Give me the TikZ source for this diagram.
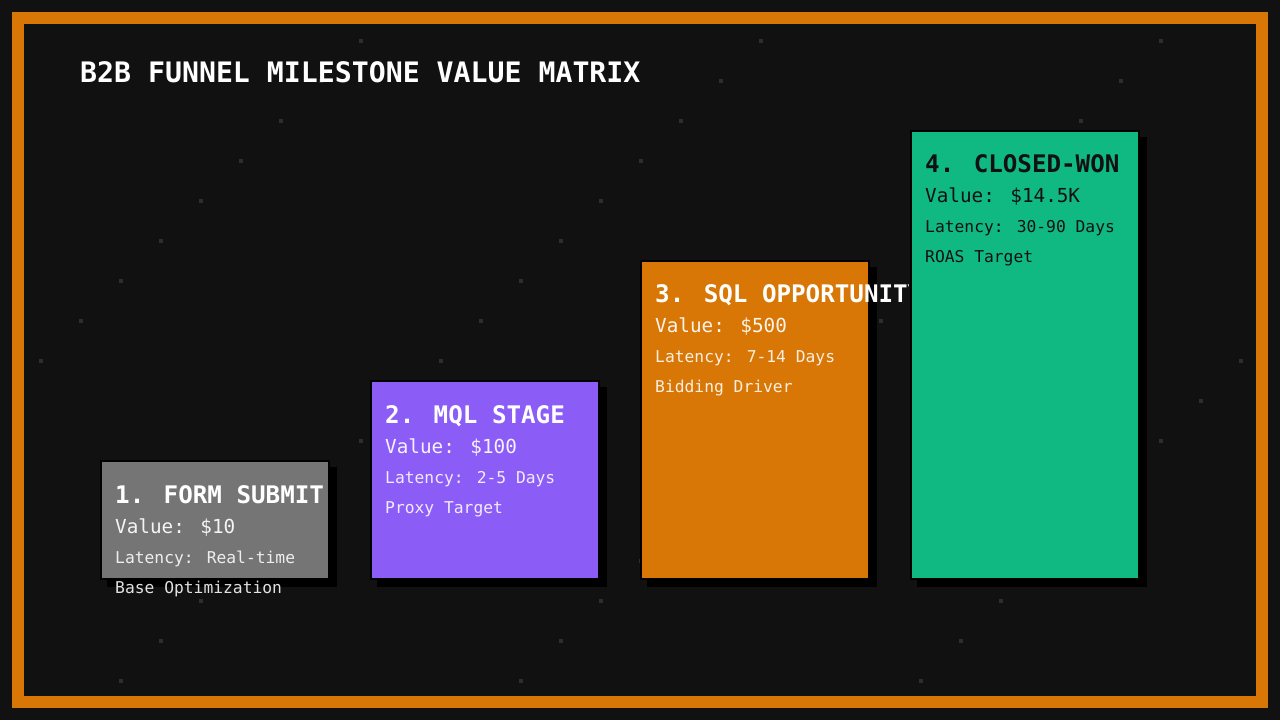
\documentclass[tikz,border=0pt]{standalone}
\usepackage{fontspec}
\setmainfont{DejaVu Sans Mono}
\definecolor{bg}{HTML}{111111}
\definecolor{frameorange}{HTML}{D97706}
\definecolor{dotgray}{HTML}{2E2E2E}
\definecolor{cgray}{HTML}{757575}
\definecolor{cpurple}{HTML}{8B5CF6}
\definecolor{corange}{HTML}{D97706}
\definecolor{cgreen}{HTML}{10B981}
\definecolor{darktext}{HTML}{111111}
\tikzset{
  stagebox/.style={draw=black, line width=2pt, anchor=north west, minimum width=228pt, inner sep=0pt, outer sep=0pt},
  shadowbox/.style={fill=black},
  ttl/.style={anchor=base west, inner sep=0pt, font=\fontsize{24.2}{24.2}\selectfont\bfseries},
  val/.style={anchor=base west, inner sep=0pt, font=\fontsize{19.3}{19.3}\selectfont},
  lat/.style={anchor=base west, inner sep=0pt, font=\fontsize{16.3}{16.3}\selectfont},
  maintitle/.style={anchor=base west, inner sep=0pt, text=white, font=\fontsize{28.2}{28.2}\selectfont\bfseries},
}
\begin{document}
\begin{tikzpicture}[x=1pt,y=-1pt]
\useasboundingbox (0,0) rectangle (1280,720);
\fill[bg] (0,0) rectangle (1280,720);
% dot pattern
\foreach \i in {1,...,31}{
  \foreach \s in {402,802,1202,1602}{
    \pgfmathtruncatemacro{\xx}{1+40*\i}
    \pgfmathtruncatemacro{\yy}{\s-\xx}
    \ifnum\yy>24 \ifnum\yy<696
      \fill[dotgray] (\xx-2,\yy-2) rectangle (\xx+2,\yy+2);
    \fi\fi
  }
}
% frame
\draw[frameorange, line width=12pt] (18,18) rectangle (1262,702);
% title
\node[maintitle] (title) at (80,82) {B2B FUNNEL MILESTONE VALUE MATRIX};

% box 1
\fill[shadowbox] (107,467) rectangle (337,587);
\node[stagebox, fill=cgray, minimum height=118pt] (b1) at (101,461) {};
\node[ttl, text=white] (t1) at (115,503) {1. FORM SUBMIT};
\node[val, text=white, text opacity=0.92] (v1) at (115,533) {Value: \$10};
\node[lat, text=white, text opacity=0.88] (l1) at (115,563) {Latency: Real-time};
\node[lat, text=white, text opacity=0.88] (e1) at (115,593) {Base Optimization};

% box 2
\fill[shadowbox] (377,387) rectangle (607,587);
\node[stagebox, fill=cpurple, minimum height=198pt] (b2) at (371,381) {};
\node[ttl, text=white] (t2) at (385,423) {2. MQL STAGE};
\node[val, text=white, text opacity=0.92] (v2) at (385,453) {Value: \$100};
\node[lat, text=white, text opacity=0.88] (l2) at (385,483) {Latency: 2-5 Days};
\node[lat, text=white, text opacity=0.88] (e2) at (385,513) {Proxy Target};

% box 3
\fill[shadowbox] (647,267) rectangle (877,587);
\node[stagebox, fill=corange, minimum height=318pt] (b3) at (641,261) {};
\begin{scope}
  \clip (641,250) rectangle (908,320);
  \node[ttl, text=white] (t3) at (655,302) {3. SQL OPPORTUNITY};
\end{scope}
\node[val, text=white, text opacity=0.92] (v3) at (655,332) {Value: \$500};
\node[lat, text=white, text opacity=0.88] (l3) at (655,362) {Latency: 7-14 Days};
\node[lat, text=white, text opacity=0.88] (e3) at (655,392) {Bidding Driver};

% box 4
\fill[shadowbox] (917,137) rectangle (1147,587);
\node[stagebox, fill=cgreen, minimum height=448pt] (b4) at (911,131) {};
\node[ttl, text=darktext] (t4) at (925,172) {4. CLOSED-WON};
\node[val, text=darktext] (v4) at (925,202) {Value: \$14.5K};
\node[lat, text=darktext] (l4) at (925,232) {Latency: 30-90 Days};
\node[lat, text=darktext] (e4) at (925,262) {ROAS Target};
\end{tikzpicture}
\end{document}
